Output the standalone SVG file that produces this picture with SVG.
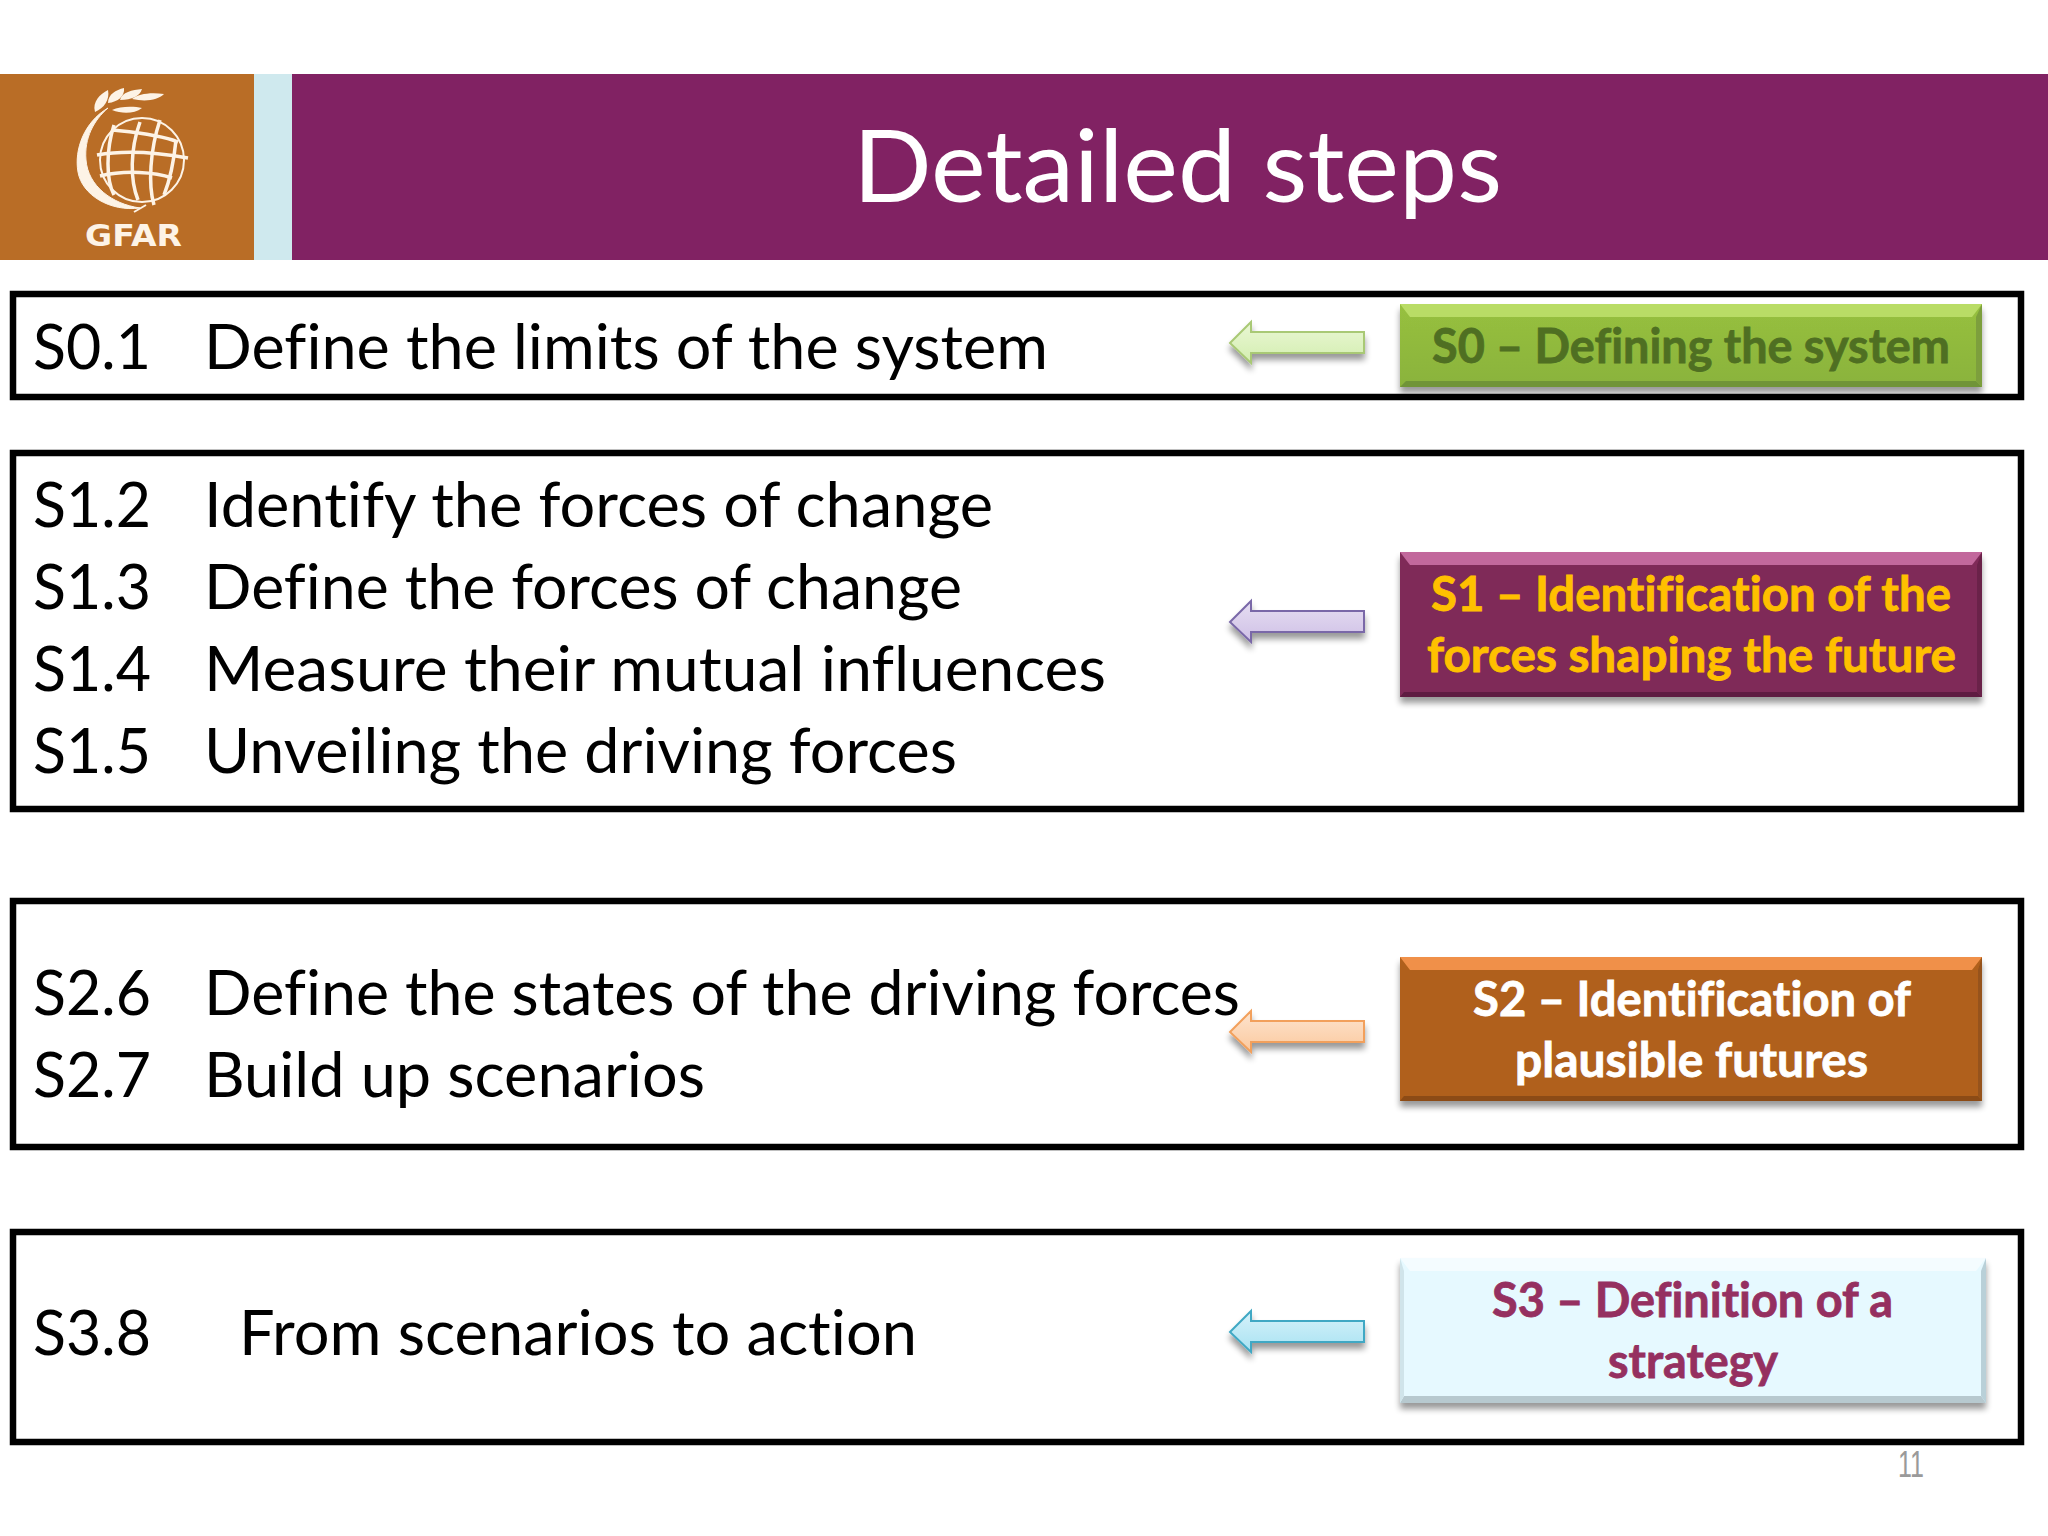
<svg xmlns="http://www.w3.org/2000/svg" width="2048" height="1536" viewBox="0 0 2048 1536">
<defs>
<filter id="sh" x="-10%" y="-20%" width="120%" height="150%"><feGaussianBlur in="SourceAlpha" stdDeviation="3"/><feOffset dy="6"/><feComponentTransfer><feFuncA type="linear" slope="0.4"/></feComponentTransfer><feMerge><feMergeNode/><feMergeNode in="SourceGraphic"/></feMerge></filter>
<linearGradient id="gG" x1="0" y1="0" x2="0" y2="1"><stop offset="0" stop-color="#97c03f"/><stop offset="1" stop-color="#8ab33c"/></linearGradient>
<linearGradient id="aG" x1="0" y1="0" x2="0" y2="1"><stop offset="0" stop-color="#eaf7d4"/><stop offset="1" stop-color="#d3eeb0"/></linearGradient>
<linearGradient id="aP" x1="0" y1="0" x2="0" y2="1"><stop offset="0" stop-color="#e6def2"/><stop offset="1" stop-color="#cfc0e6"/></linearGradient>
<linearGradient id="aO" x1="0" y1="0" x2="0" y2="1"><stop offset="0" stop-color="#fde4cf"/><stop offset="1" stop-color="#fbc99e"/></linearGradient>
<linearGradient id="aB" x1="0" y1="0" x2="0" y2="1"><stop offset="0" stop-color="#d6f2fa"/><stop offset="1" stop-color="#a8e2f2"/></linearGradient>
<polygon id="arrow" points="1230,21 1251,0 1251,10 1364,10 1364,31 1251,31 1251,41"/>
</defs>
<style>
text{font-variant-ligatures:none}
.t{font-family:Lato,"Liberation Sans",sans-serif;font-size:62px;fill:#000}
.b{font-family:Lato,"Liberation Sans",sans-serif;font-size:48px;font-weight:700;stroke-width:.8}
.frame{fill:#fff;stroke:#000;stroke-width:6.5}
.arr{stroke-width:2;filter:url(#sh);stroke-linejoin:miter}
</style>
<rect width="2048" height="1536" fill="#fff"/>
<g id="header">
<rect x="0" y="74" width="254" height="186" fill="#b96d26"/>
<rect x="254" y="74" width="38" height="186" fill="#cfe9ee"/>
<rect x="292" y="74" width="1756" height="186" fill="#812263"/>
<text x="853" y="202" font-family="Lato,'Liberation Sans',sans-serif" font-size="100" fill="#fff" textLength="649" lengthAdjust="spacingAndGlyphs">Detailed steps</text>
</g>
<g id="logo" fill="none" stroke="#fdf3e6">
<path d="M108 108C84 122 74 150 78 172C82 195 110 212 140 208C112 204 88 186 86 160C84 138 94 120 108 108Z" fill="#fdf3e6" stroke-width="1"/>
<circle cx="142" cy="160" r="42" stroke-width="2"/>
<path d="M97 155C125 150 155 152 188 158M100 176C125 170 155 172 172 178M112 130C130 132 158 134 178 142" stroke-width="3.5"/>
<path d="M114 125C106 150 106 180 114 195M140 122C130 150 130 180 138 200M160 120C150 150 148 185 154 205M176 140C174 160 170 180 164 195" stroke-width="3.5"/>
<path d="M146 205L134 212" stroke-width="2"/>
<g fill="#fdf3e6" stroke="none">
<path d="M95 112C92 102 100 94 108 90C110 100 104 108 95 112Z"/>
<path d="M108 103C108 94 116 90 124 88C125 96 118 102 108 103Z"/>
<path d="M120 100C122 92 132 90 142 89C140 96 132 100 120 100Z"/>
<path d="M132 99C138 94 150 92 164 94C158 100 146 102 132 99Z"/>
<path d="M112 110C120 106 134 106 142 108C134 114 122 114 112 110Z"/>
</g>
<text x="85" y="246" font-family="'DejaVu Sans',sans-serif" font-size="31" font-weight="700" fill="#fdf3e6" stroke="none" textLength="97" lengthAdjust="spacingAndGlyphs">GFAR</text>
</g>
<g id="frame-s0"><rect class="frame" x="13" y="294" width="2008" height="103"/>
<text class="t" x="33" y="369" textLength="118" lengthAdjust="spacingAndGlyphs">S0.1</text>
<text class="t" x="204" y="369" textLength="844" lengthAdjust="spacingAndGlyphs">Define the limits of the system</text></g>
<g id="frame-s1"><rect class="frame" x="13" y="453" width="2008" height="356"/>
<text class="t" x="33" y="527" textLength="118" lengthAdjust="spacingAndGlyphs">S1.2</text>
<text class="t" x="204" y="527" textLength="789" lengthAdjust="spacingAndGlyphs">Identify the forces of change</text>
<text class="t" x="33" y="609" textLength="118" lengthAdjust="spacingAndGlyphs">S1.3</text>
<text class="t" x="204" y="609" textLength="758" lengthAdjust="spacingAndGlyphs">Define the forces of change</text>
<text class="t" x="33" y="691" textLength="118" lengthAdjust="spacingAndGlyphs">S1.4</text>
<text class="t" x="204" y="691" textLength="902" lengthAdjust="spacingAndGlyphs">Measure their mutual influences</text>
<text class="t" x="33" y="773" textLength="118" lengthAdjust="spacingAndGlyphs">S1.5</text>
<text class="t" x="204" y="773" textLength="753" lengthAdjust="spacingAndGlyphs">Unveiling the driving forces</text></g>
<g id="frame-s2"><rect class="frame" x="13" y="901" width="2008" height="246"/>
<text class="t" x="33" y="1015" textLength="118" lengthAdjust="spacingAndGlyphs">S2.6</text>
<text class="t" x="204" y="1015" textLength="1036" lengthAdjust="spacingAndGlyphs">Define the states of the driving forces</text>
<text class="t" x="33" y="1097" textLength="118" lengthAdjust="spacingAndGlyphs">S2.7</text>
<text class="t" x="204" y="1097" textLength="501" lengthAdjust="spacingAndGlyphs">Build up scenarios</text></g>
<g id="frame-s3"><rect class="frame" x="13" y="1232" width="2008" height="210"/>
<text class="t" x="33" y="1355" textLength="118" lengthAdjust="spacingAndGlyphs">S3.8</text>
<text class="t" x="239" y="1355" textLength="678" lengthAdjust="spacingAndGlyphs">From scenarios to action</text></g>
<g id="connectors">
<use href="#arrow" class="arr" y="322" fill="url(#aG)" stroke="#a9c975"/>
<use href="#arrow" class="arr" y="601" fill="url(#aP)" stroke="#7a68a8"/>
<use href="#arrow" class="arr" y="1011" fill="url(#aO)" stroke="#f2a05c"/>
<use href="#arrow" class="arr" y="1311" fill="url(#aB)" stroke="#3fa8c4"/>
</g>
<g id="node-s0"><g filter="url(#sh)"><rect x="1400" y="304" width="582" height="83" fill="url(#gG)"/>
<polygon points="1400,304 1982,304 1972,317 1410,317" fill="#b9dc66"/><polygon points="1400,387 1982,387 1976,381 1406,381" fill="#6f9438"/><polygon points="1982,304 1982,387 1976,381 1976,317" fill="#7d9f3e"/></g>
<text class="b" x="1432" y="363" fill="#4f6f22" stroke="#4f6f22" textLength="518" lengthAdjust="spacingAndGlyphs">S0 – Defining the system</text></g>
<g id="node-s1"><g filter="url(#sh)"><rect x="1400" y="552" width="582" height="145" fill="#7f2b58"/>
<polygon points="1400,552 1982,552 1972,565 1410,565" fill="#c2679c"/><polygon points="1400,697 1982,697 1977,692 1404,692" fill="#5f1d42"/><polygon points="1982,552 1982,697 1977,692 1977,565" fill="#6b2149"/></g>
<text class="b" x="1431" y="611" fill="#ffc000" stroke="#ffc000" textLength="520" lengthAdjust="spacingAndGlyphs">S1 – Identification of the</text>
<text class="b" x="1427" y="672" fill="#ffc000" stroke="#ffc000" textLength="529" lengthAdjust="spacingAndGlyphs">forces shaping the future</text></g>
<g id="node-s2"><g filter="url(#sh)"><rect x="1400" y="957" width="582" height="144" fill="#b0601c"/>
<polygon points="1400,957 1982,957 1972,970 1410,970" fill="#f09048"/><polygon points="1400,1101 1982,1101 1978,1096 1404,1096" fill="#8c4c14"/><polygon points="1982,957 1982,1101 1978,1096 1978,970" fill="#96521a"/></g>
<text class="b" x="1473" y="1016" fill="#fff" stroke="#fff" textLength="438" lengthAdjust="spacingAndGlyphs">S2 – Identification of</text>
<text class="b" x="1515" y="1077" fill="#fff" stroke="#fff" textLength="353" lengthAdjust="spacingAndGlyphs">plausible futures</text></g>
<g id="node-s3"><g filter="url(#sh)"><rect x="1400" y="1258" width="586" height="145" fill="#e6f9ff"/>
<polygon points="1400,1258 1986,1258 1976,1271 1410,1271" fill="#f4fcff"/><polygon points="1400,1403 1986,1403 1981,1396 1404,1396" fill="#b7c9cf"/><polygon points="1986,1258 1986,1403 1981,1396 1981,1271" fill="#b9d0d8"/><polygon points="1400,1258 1400,1403 1404,1396 1404,1271" fill="#d0e4ea"/></g>
<text class="b" x="1492" y="1317" fill="#953060" stroke="#953060" textLength="401" lengthAdjust="spacingAndGlyphs">S3 – Definition of a</text>
<text class="b" x="1608" y="1378" fill="#953060" stroke="#953060" textLength="170" lengthAdjust="spacingAndGlyphs">strategy</text></g>
<text id="page" x="1898" y="1477" font-family="'Liberation Sans',sans-serif" font-size="37" fill="#9a9a9a" textLength="26" lengthAdjust="spacingAndGlyphs">11</text>
</svg>
